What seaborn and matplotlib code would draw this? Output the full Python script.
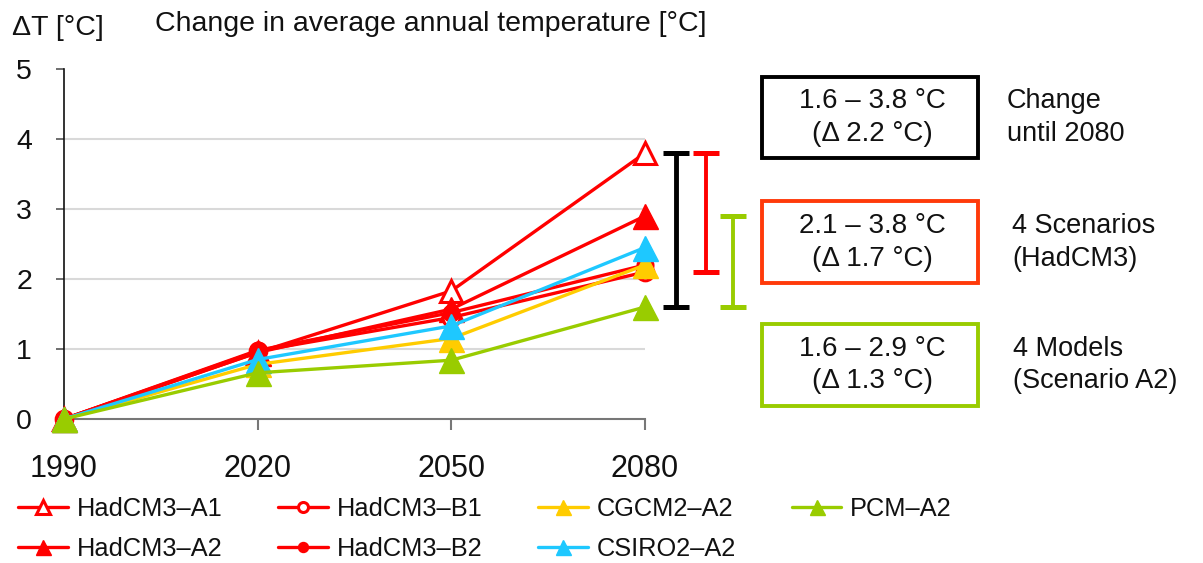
import numpy as np
import pandas as pd
import matplotlib
matplotlib.use("Agg")
import matplotlib.pyplot as plt
from matplotlib.patches import Rectangle
import seaborn as sns

# ---- data -------------------------------------------------------------
years = [1990, 2020, 2050, 2080]
year_labels = ["1990", "2020", "2050", "2080"]

hadcm3_a1 = [0.0, 0.95, 1.83, 3.8]
hadcm3_a2 = [0.0, 0.95, 1.57, 2.9]
hadcm3_b1 = [0.0, 0.97, 1.45, 2.1]
hadcm3_b2 = [0.0, 0.98, 1.52, 2.2]
cgcm2_a2 = [0.0, 0.78, 1.15, 2.2]
csiro2_a2 = [0.0, 0.85, 1.33, 2.45]
pcm_a2 = [0.0, 0.66, 0.84, 1.6]

series_names = ["HadCM3–A1", "HadCM3–A2", "HadCM3–B1", "HadCM3–B2",
                "CGCM2–A2", "CSIRO2–A2", "PCM–A2"]
series_values = [hadcm3_a1, hadcm3_a2, hadcm3_b1, hadcm3_b2,
                 cgcm2_a2, csiro2_a2, pcm_a2]

y_ticks = [0, 1, 2, 3, 4, 5]
grid_levels = [1, 2, 3, 4]

RED = "#FF0000"
YELLOW = "#FFCC00"
BLUE = "#1EC8FF"
GREEN = "#99CC00"
BOX_RED = "#FF3A0A"

styles = {
    "HadCM3–A1": dict(color=RED, marker="^", mfc="white", ms=16, mew=2.2),
    "HadCM3–A2": dict(color=RED, marker="^", mfc=RED, ms=18, mew=1),
    "HadCM3–B1": dict(color=RED, marker="o", mfc="white", ms=12, mew=2.2),
    "HadCM3–B2": dict(color=RED, marker="o", mfc=RED, ms=12, mew=1),
    "CGCM2–A2": dict(color=YELLOW, marker="^", mfc=YELLOW, ms=18, mew=1),
    "CSIRO2–A2": dict(color=BLUE, marker="^", mfc=BLUE, ms=18, mew=1),
    "PCM–A2": dict(color=GREEN, marker="^", mfc=GREEN, ms=18, mew=1),
}

df = pd.DataFrame({
    "year": np.tile(years, len(series_names)),
    "dT": np.concatenate(series_values),
    "series": np.repeat(series_names, len(years)),
})

# ---- figure -----------------------------------------------------------
sns.set_theme(style="white")
plt.rcParams["font.family"] = ["Liberation Sans", "DejaVu Sans"]

W, H = 1203, 563
fig = plt.figure(figsize=(W / 100, H / 100), dpi=100)
ax = fig.add_axes([64 / W, 1 - 419 / H, (645 - 64) / W, (419 - 69) / H])

for lvl in grid_levels:
    ax.axhline(lvl, color="#D9D9D9", lw=1.5, zorder=0)

for name in series_names:
    st = styles[name]
    sub = df[df["series"] == name]
    sns.lineplot(data=sub, x="year", y="dT", ax=ax, color=st["color"],
                 lw=2.4, marker=st["marker"], markersize=st["ms"],
                 markerfacecolor=st["mfc"], markeredgecolor=st["color"],
                 markeredgewidth=st["mew"], label=name, clip_on=False,
                 sort=False, zorder=3)

ax.set_xlim(years[0], years[-1])
ax.set_ylim(y_ticks[0], y_ticks[-1])
ax.set_xticks(years)
ax.set_xticklabels(year_labels)
ax.set_yticks(y_ticks)
ax.set_xlabel("")
ax.set_ylabel("")

for s in ["top", "right"]:
    ax.spines[s].set_visible(False)
ax.spines["left"].set_color("#111111")
ax.spines["left"].set_linewidth(1.2)
ax.spines["bottom"].set_color("#777777")
ax.spines["bottom"].set_linewidth(1.5)
ax.tick_params(axis="y", direction="out", length=6, width=1.2,
               color="#555555", pad=17, labelsize=20.5, left=True,
               labelcolor="#111111")
ax.tick_params(axis="x", direction="out", length=8, width=1.5,
               color="#777777", pad=17, labelsize=22, bottom=True,
               labelcolor="#111111")

# ---- range bars at 2080 -------------------------------------------------
end_vals = {n: v[-1] for n, v in zip(series_names, series_values)}
all_end = list(end_vals.values())
had_end = [end_vals[n] for n in series_names if n.startswith("HadCM3")]
a2_end = [end_vals[n] for n in series_names if n.endswith("A2")]

ranges = [
    (1.053, min(all_end), max(all_end), "#000000", 3.5),
    (1.105, min(had_end), max(had_end), RED, 2.8),
    (1.152, min(a2_end), max(a2_end), GREEN, 2.8),
]
tr = ax.get_yaxis_transform()
for xa, lo, hi, col, lw in ranges:
    ax.vlines(xa, lo, hi, color=col, lw=lw, transform=tr, clip_on=False)
    ax.plot([xa, xa], [lo, hi], ls="none", marker="_", ms=19, mew=3.6,
            color=col, transform=tr, clip_on=False)

# ---- annotation boxes ---------------------------------------------------
boxes = [
    (77, 158, "#000000", ranges[0], "Change\nuntil 2080", 1007),
    (201, 283, BOX_RED, ranges[1], "4 Scenarios\n(HadCM3)", 1012),
    (324, 406, GREEN, ranges[2], "4 Models\n(Scenario A2)", 1013),
]
for top, bot, col, (_, lo, hi, _, _), side, sx in boxes:
    fig.patches.append(Rectangle((762 / W, 1 - bot / H), (978 - 762) / W,
                                 (bot - top) / H, transform=fig.transFigure,
                                 fill=False, ec=col, lw=2.8))
    fig.text(872 / W, 1 - (top + bot) / 2 / H,
             f"{lo:.1f} – {hi:.1f} °C\n(Δ {hi - lo:.1f} °C)",
             ha="center", va="center", fontsize=20, linespacing=1.35,
             color="#111111")
    fig.text(sx / W, 1 - (top + bot) / 2 / H, side, ha="left", va="center",
             fontsize=19.5, linespacing=1.35, color="#111111")

# ---- titles -------------------------------------------------------------
fig.text(12 / W, 1 - 28 / H, "ΔT [°C]", ha="left", va="center",
         fontsize=20.5, color="#111111")
fig.text(155 / W, 1 - 24 / H, "Change in average annual temperature [°C]",
         ha="left", va="center", fontsize=20.5, color="#111111")

# ---- legend -------------------------------------------------------------
handles, labels = ax.get_legend_handles_labels()
if ax.legend_:
    ax.legend_.remove()
leg = fig.legend(handles, labels, ncol=4, loc="upper left",
                 bbox_to_anchor=(18 / W, 1 - 497 / H), frameon=False,
                 fontsize=18.3, handlelength=1.95, handletextpad=0.35,
                 columnspacing=2.2, labelspacing=0.62, borderpad=0,
                 borderaxespad=0, markerscale=0.6)
for t in leg.get_texts():
    t.set_color("#111111")

fig.savefig("out.png", dpi=100)
